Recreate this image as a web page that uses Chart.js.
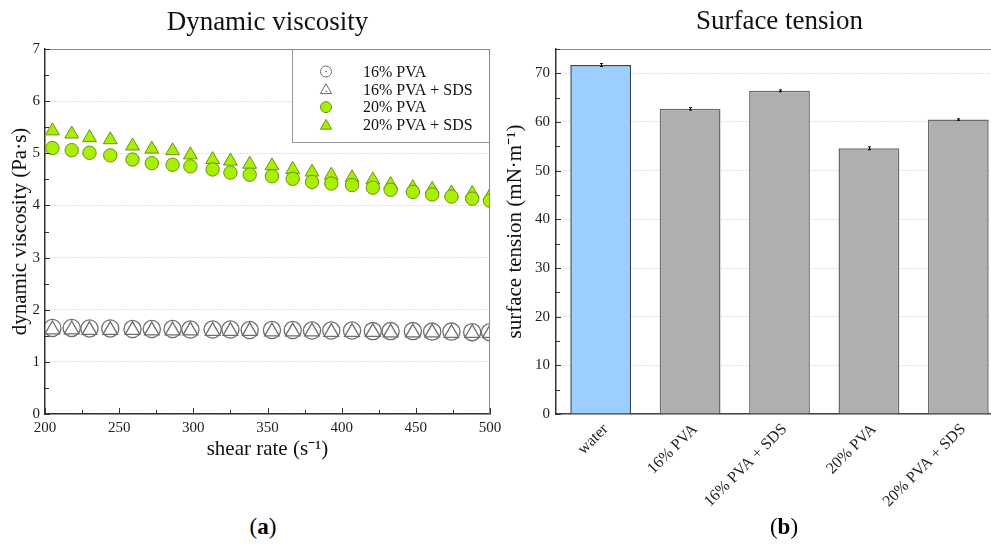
<!DOCTYPE html>
<html><head><meta charset="utf-8">
<script src="https://cdn.jsdelivr.net/npm/chart.js@4.4.1/dist/chart.umd.min.js"></script>
<style>
html,body{margin:0;padding:0;background:#fff;overflow:hidden;width:991px;height:545px;}
#wrap{position:relative;width:991px;height:545px;overflow:hidden;}
#c1{position:absolute;left:0;top:0;}
#c2{position:absolute;left:500px;top:0;}
.lab{position:absolute;top:512px;font-family:"Liberation Serif",serif;font-size:23px;line-height:30px;transform:translateX(-50%);color:#000;}
</style></head><body>
<div id="wrap">
<canvas id="c1" width="535" height="470"></canvas>
<canvas id="c2" width="559" height="545"></canvas>
<div class="lab" style="left:263px">(<b>a</b>)</div>
<div class="lab" style="left:784px">(<b>b</b>)</div>
</div>
<script>
// ---------- data ----------
const shearRate = [205,218,230,244,259,272,286,298,313,325,338,353,367,380,393,407,421,433,448,461,474,488,500];
const pva16    = [1.65,1.65,1.64,1.64,1.63,1.63,1.63,1.62,1.62,1.62,1.61,1.61,1.61,1.60,1.60,1.60,1.59,1.59,1.59,1.58,1.58,1.57,1.57];
const pva16sds = [1.62,1.62,1.61,1.61,1.61,1.60,1.60,1.60,1.59,1.59,1.59,1.58,1.58,1.58,1.57,1.57,1.57,1.56,1.56,1.56,1.55,1.55,1.55];
const pva20    = [5.10,5.06,5.01,4.96,4.88,4.81,4.78,4.75,4.69,4.63,4.59,4.56,4.51,4.45,4.42,4.39,4.34,4.30,4.26,4.21,4.17,4.13,4.09];
const pva20sds = [5.43,5.37,5.30,5.26,5.14,5.08,5.05,4.97,4.88,4.85,4.79,4.76,4.69,4.64,4.58,4.53,4.49,4.40,4.34,4.31,4.24,4.23,4.18];
const seriesLabels = ['16% PVA','16% PVA + SDS','20% PVA','20% PVA + SDS'];
const viscTicks = [0,1,2,3,4,5,6,7];
const shearTicks = [200,250,300,350,400,450,500];

const samples = ['water','16% PVA','16% PVA + SDS','20% PVA','20% PVA + SDS'];
const tension = [71.7,62.7,66.4,54.6,60.5];
const tensionErr = [0.3,0.25,0.2,0.3,0.15];
const tensionTicks = [0,10,20,30,40,50,60,70];

const F = '"Liberation Serif","Times New Roman",serif';
const pts = arr => arr.map((v,i)=>({x:shearRate[i], y:v}));

// ---------- plugins ----------
const frameTicks = {
  id:'frameTicks',
  afterDraw(chart, args, opts){
    const {ctx, chartArea:a} = chart;
    ctx.save();
    ctx.lineWidth = 1;
    ctx.strokeStyle = '#8a8a8a';
    ctx.beginPath();
    ctx.moveTo(a.left, a.top+0.5); ctx.lineTo(a.right-0.5, a.top+0.5); ctx.lineTo(a.right-0.5, a.bottom);
    ctx.stroke();
    ctx.strokeStyle = '#333';
    (opts.axes||[]).forEach(ax=>{
      const s = chart.scales[ax.id];
      const n = Math.round((s.max - s.min)/ax.step);
      for (let k=0;k<=n;k++){
        const v = s.min + k*ax.step;
        const r = v/ax.major;
        const major = Math.abs(r-Math.round(r))<1e-6;
        const len = major ? ax.majorLen : ax.minorLen;
        const p = Math.round(s.getPixelForValue(v))+0.5;
        ctx.beginPath();
        if (s.isHorizontal()) { ctx.moveTo(p, a.bottom); ctx.lineTo(p, a.bottom-len); }
        else { ctx.moveTo(a.left, p); ctx.lineTo(a.left+len, p); }
        ctx.stroke();
      }
    });
    ctx.restore();
  }
};

const chartTitle = {
  id:'chartTitle',
  afterDraw(chart, args, opts){
    const {ctx, chartArea:a} = chart;
    ctx.save();
    ctx.font = '27px ' + F;
    ctx.fillStyle = '#111';
    ctx.textAlign = 'center'; ctx.textBaseline = 'middle';
    ctx.fillText(opts.text, (a.left+a.right)/2, opts.y);
    ctx.restore();
  }
};

const boxLegend = {
  id:'boxLegend',
  afterDatasetsDraw(chart, args, opts){
    const {ctx, chartArea:a} = chart;
    const w = 198, h = 94, x0 = a.right - w, y0 = a.top;
    ctx.save();
    ctx.fillStyle = '#fff';
    ctx.fillRect(x0, y0, w, h);
    ctx.strokeStyle = '#999'; ctx.lineWidth = 1;
    ctx.strokeRect(x0+0.5, y0+0.5, w-1, h-1);
    chart.data.datasets.forEach((ds,i)=>{
      const cy = y0 + 22.5 + i*17.8;
      const cx = x0 + 34;
      ctx.fillStyle = ds.backgroundColor === 'transparent' ? '#fff' : ds.backgroundColor;
      ctx.strokeStyle = ds.borderColor;
      ctx.lineWidth = 1;
      Chart.helpers.drawPoint(ctx, {pointStyle: ds.pointStyle, radius: ds.pointStyle==='triangle'?6.5:5.5, borderWidth:1, rotation:0}, cx, cy + (ds.pointStyle==='triangle'?1:0));
      if (ds.backgroundColor === 'transparent') {
        ctx.fillStyle = '#444';
        ctx.fillRect(cx-0.6, cy+ (ds.pointStyle==='triangle'?2:0) -0.6, 1.2, 1.2);
      }
      ctx.fillStyle = '#111';
      ctx.font = '16px ' + F;
      ctx.textAlign = 'left'; ctx.textBaseline = 'middle';
      ctx.fillText(ds.label, x0 + 71, cy + 1);
    });
    ctx.restore();
  }
};

const errBars = {
  id:'errBars',
  afterDatasetsDraw(chart, args, opts){
    const {ctx} = chart;
    const ys = chart.scales.y;
    const meta = chart.getDatasetMeta(0);
    ctx.save();
    ctx.strokeStyle = '#000'; ctx.lineWidth = 1;
    meta.data.forEach((el,i)=>{
      const v = tension[i], e = tensionErr[i];
      const t = ys.getPixelForValue(v+e), b = ys.getPixelForValue(v-e);
      const x = Math.round(el.x)+0.5;
      ctx.beginPath();
      ctx.moveTo(x, t); ctx.lineTo(x, b);
      ctx.moveTo(x-1.5, t); ctx.lineTo(x+1.5, t);
      ctx.moveTo(x-1.5, b); ctx.lineTo(x+1.5, b);
      ctx.stroke();
    });
    ctx.restore();
  }
};

// ---------- chart (a) ----------
const grey = '#6e6e6e';
const green = '#a6f000';
const greenEdge = '#6f8f1e';
new Chart(document.getElementById('c1'), {
  type:'scatter',
  data:{ datasets:[
    {label:seriesLabels[0], data:pts(pva16), pointStyle:'circle', pointRadius:8.6, borderWidth:1.3, borderColor:grey, backgroundColor:'transparent', showLine:false},
    {label:seriesLabels[1], data:pts(pva16sds), pointStyle:'triangle', pointRadius:8.5, borderWidth:1.3, borderColor:grey, backgroundColor:'transparent', showLine:false},
    {label:seriesLabels[2], data:pts(pva20), pointStyle:'circle', pointRadius:6.7, borderWidth:1, borderColor:greenEdge, backgroundColor:green, showLine:false},
    {label:seriesLabels[3], data:pts(pva20sds), pointStyle:'triangle', pointRadius:8, borderWidth:1, borderColor:greenEdge, backgroundColor:green, showLine:false}
  ]},
  options:{
    responsive:false, animation:false,
    layout:{padding:{top:49,right:45,left:0,bottom:0}},
    plugins:{
      legend:{display:false}, tooltip:{enabled:false},
      chartTitle:{text:'Dynamic viscosity', y:23},
      frameTicks:{axes:[
        {id:'x', step:25, major:50, majorLen:6, minorLen:4},
        {id:'y', step:0.5, major:1, majorLen:5, minorLen:4}
      ]}
    },
    scales:{
      x:{type:'linear', min:200, max:500,
        afterBuildTicks:s=>{ s.ticks = shearTicks.map(v=>({value:v})); },
        afterFit:s=>{ s.height = 56; },
        ticks:{font:{family:F,size:15}, color:'#222', padding:5, maxRotation:0},
        grid:{display:false, drawTicks:false},
        border:{color:'#333', width:1.5},
        title:{display:true, text:'shear rate (s⁻¹)', font:{family:F,size:21}, color:'#111', padding:{top:0,bottom:8}}
      },
      y:{type:'linear', min:0, max:7,
        afterBuildTicks:s=>{ s.ticks = viscTicks.map(v=>({value:v})); },
        afterFit:s=>{ s.width = 45; },
        ticks:{font:{family:F,size:15}, color:'#222', padding:5},
        grid:{color:'#c4c4c4', lineWidth:1, drawTicks:false},
        border:{color:'#333', width:1.5, dash:[1,2]},
        title:{display:true, text:'dynamic viscosity (Pa·s)', font:{family:F,size:21}, color:'#111', padding:{top:8,bottom:0}}
      }
    }
  },
  plugins:[frameTicks, boxLegend, chartTitle]
});

// ---------- chart (b) ----------
new Chart(document.getElementById('c2'), {
  type:'bar',
  data:{ labels:samples, datasets:[{
    label:'surface tension', data:tension,
    backgroundColor:['#9ccfff','#adafb1','#adafb1','#adafb1','#adafb1'],
    borderColor:['#3c4650','#6a6a6a','#6a6a6a','#6a6a6a','#6a6a6a'],
    borderWidth:1.5, categoryPercentage:1, barPercentage:0.68
  }]},
  options:{
    responsive:false, animation:false,
    layout:{padding:{top:49,right:56,left:0,bottom:0}},
    plugins:{
      legend:{display:false}, tooltip:{enabled:false},
      chartTitle:{text:'Surface tension', y:22},
      frameTicks:{axes:[{id:'y', step:5, major:10, majorLen:5, minorLen:4}]}
    },
    scales:{
      x:{
        afterFit:s=>{ s.height = 131; },
        ticks:{font:{family:F,size:16}, color:'#222', padding:6, labelOffset:5, minRotation:45, maxRotation:45, autoSkip:false},
        grid:{display:false, drawTicks:false},
        border:{color:'#444', width:1.5}
      },
      y:{type:'linear', min:0, max:75,
        afterBuildTicks:s=>{ s.ticks = tensionTicks.map(v=>({value:v})); },
        afterFit:s=>{ s.width = 56; },
        ticks:{font:{family:F,size:15}, color:'#222', padding:6},
        grid:{color:'#c4c4c4', lineWidth:1, drawTicks:false},
        border:{color:'#333', width:1.5, dash:[1,2]},
        title:{display:true, text:'surface tension (mN·m⁻¹)', font:{family:F,size:21}, color:'#111', padding:{top:3,bottom:0}}
      }
    }
  },
  plugins:[frameTicks, errBars, chartTitle]
});
</script>
</body></html>
